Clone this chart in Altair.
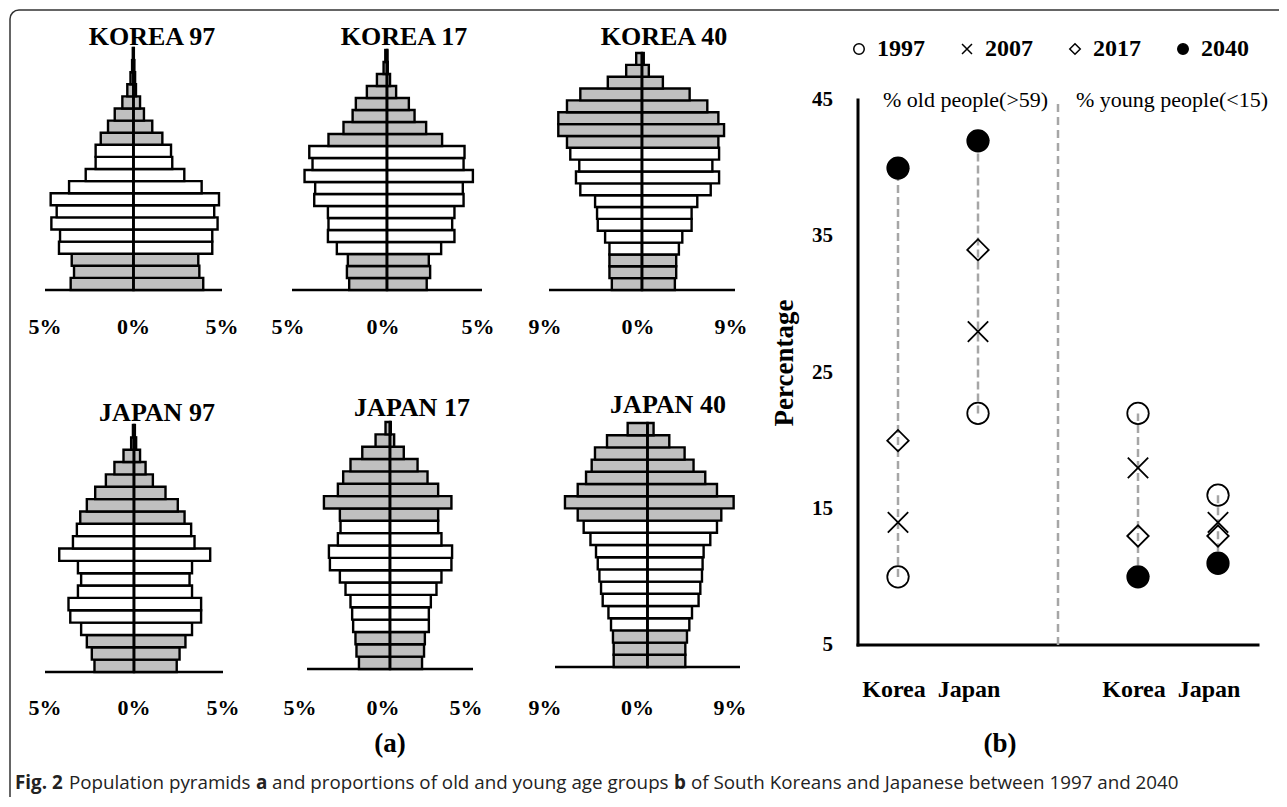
import json
import altair as alt
import pandas as pd

# ---------------- data: population pyramids (% of population, left / right half) ----------------
AGE_BANDS = ["0-4", "5-9", "10-14", "15-19", "20-24", "25-29", "30-34", "35-39", "40-44", "45-49",
             "50-54", "55-59", "60-64", "65-69", "70-74", "75-79", "80-84", "85-89", "90-94", "95+"]

korea97_left = [3.55, 3.36, 3.49, 4.21, 4.15, 4.64, 4.34, 4.68, 3.64, 2.70,
                2.14, 2.14, 1.85, 1.44, 1.06, 0.63, 0.35, 0.17, 0.08, 0.04]
korea97_right = [3.94, 3.72, 3.66, 4.45, 4.45, 4.75, 4.56, 4.83, 3.85, 2.87,
                 2.19, 2.12, 1.63, 1.06, 0.59, 0.37, 0.14, 0.09, 0.05, 0.02]
korea17_left = [1.99, 2.11, 2.06, 2.64, 3.11, 3.08, 3.11, 3.83, 3.78, 4.34,
                3.92, 4.09, 3.08, 2.29, 1.81, 1.64, 1.06, 0.53, 0.18, 0.09]
korea17_right = [2.09, 2.27, 2.20, 2.85, 3.55, 3.43, 3.55, 4.03, 3.99, 4.52,
                 4.03, 4.08, 2.90, 2.06, 1.45, 1.15, 0.48, 0.16, 0.04, 0.02]
korea40_left = [2.92, 3.15, 3.15, 3.15, 3.57, 4.28, 4.35, 4.54, 5.97, 6.39,
                6.07, 6.94, 7.26, 8.10, 8.10, 7.26, 5.97, 3.31, 1.53, 0.56]
korea40_right = [3.18, 3.31, 3.31, 3.57, 3.90, 4.80, 4.80, 5.35, 6.65, 7.46,
                 6.81, 7.46, 7.39, 7.94, 7.39, 6.32, 4.61, 2.02, 0.66, 0.17]
japan97_left = [2.22, 2.37, 2.65, 2.97, 3.58, 3.68, 3.15, 2.97, 3.15, 4.20,
                3.43, 3.21, 3.02, 2.65, 2.18, 1.58, 1.10, 0.59, 0.16, 0.06]
japan97_right = [2.40, 2.56, 2.89, 3.26, 3.77, 3.77, 3.26, 3.12, 3.26, 4.28,
                 3.40, 3.21, 2.84, 2.46, 1.77, 1.06, 0.65, 0.34, 0.12, 0.05]
japan17_left = [1.87, 2.02, 2.08, 2.22, 2.28, 2.38, 2.68, 3.02, 3.62, 3.68,
                3.14, 2.98, 3.02, 3.98, 3.14, 2.82, 2.38, 1.67, 0.87, 0.27]
japan17_right = [1.93, 2.05, 2.10, 2.34, 2.34, 2.46, 2.80, 3.10, 3.70, 3.74,
                 3.10, 2.90, 2.90, 3.70, 2.90, 2.26, 1.66, 0.83, 0.25, 0.05]
japan40_left = [3.29, 3.29, 3.36, 3.55, 3.80, 4.36, 4.52, 4.68, 4.84, 5.01,
                5.55, 6.21, 6.79, 8.03, 6.79, 5.98, 5.43, 5.11, 3.94, 1.93]
japan40_right = [3.68, 3.68, 3.84, 4.07, 4.33, 4.97, 5.14, 5.30, 5.36, 5.46,
                 6.11, 6.76, 7.18, 8.38, 6.76, 5.62, 4.48, 3.61, 2.12, 0.59]

pct_ticks_5 = [-5, 0, 5]
pct_ticks_9 = [-9, 0, 9]

# ---------------- data: proportions of old / young people ----------------
years = ["1997", "2007", "2017", "2040"]
korea_old = [10, 14, 20, 40]
japan_old = [22, 28, 34, 42]
korea_young = [22, 18, 13, 10]
japan_young = [16, 14, 13, 11]
slots = ["Korea|old", "Japan|old", "|", "Korea|young", "Japan|young"]
y_ticks = [5, 15, 25, 35, 45]

# ---------------- layout / style ----------------
W, H = 1269, 787
SERIF = "Liberation Serif"
SANS = "Open Sans"
GRAY = "#c0c0c0"
CROSS = "M-0.95,-0.95L0.95,0.95M-0.95,0.95L0.95,-0.95"


def one(**kw):
    return pd.DataFrame({k: [v] for k, v in kw.items()})


def pyramid(title, left, right, ticks, xr, yr, tdx, tdy, lpad, loff):
    rows = []
    for i, (l, r) in enumerate(zip(left, right)):
        rows.append({"age": i, "band": AGE_BANDS[i], "lo": -l, "hi": 0.0})
        rows.append({"age": i, "band": AGE_BANDS[i], "lo": 0.0, "hi": r})
    df = pd.DataFrame(rows)
    n = len(left)
    lim = max(ticks)
    xs = alt.Scale(domain=[-lim, lim], range=xr, nice=False, zero=False)
    ys = alt.Scale(domain=[0, n], range=yr, nice=False, zero=False)
    base = alt.Chart(one(k=0)).mark_rule(color="black", strokeWidth=2.5).encode(
        x=alt.XDatum(-lim, scale=xs, axis=None), x2=alt.X2Datum(lim),
        y=alt.YDatum(0, scale=ys, axis=None),
    )
    bars = alt.Chart(df).transform_calculate(top="datum.age + 1").mark_rect(
        stroke="black", strokeWidth=2.4
    ).encode(
        x=alt.X("lo:Q", axis=None),
        x2="hi:Q",
        y=alt.Y("age:Q", axis=None),
        y2="top:Q",
        fill=alt.condition("datum.age < 3 || datum.age >= 12", alt.value(GRAY), alt.value("white")),
    )
    center = alt.Chart(one(k=0)).mark_rule(color="black", strokeWidth=2.6).encode(
        x=alt.XDatum(0, axis=None), y=alt.YDatum(0, axis=None), y2=alt.Y2Datum(n)
    )
    labels = alt.Chart(pd.DataFrame({"tick": ticks})).transform_calculate(
        lab="abs(datum.tick) + '%'"
    ).mark_text(
        font=SERIF, fontSize=22, fontWeight="bold", align="center", baseline="alphabetic",
        dx=loff, dy=lpad, color="black"
    ).encode(x=alt.X("tick:Q", axis=None), y=alt.YDatum(0, axis=None), text="lab:N")
    ttl = alt.Chart(one(t=title)).mark_text(
        font=SERIF, fontSize=26, fontWeight="bold", align="center", baseline="alphabetic",
        dx=tdx, dy=tdy, color="black"
    ).encode(x=alt.XDatum(0, axis=None), y=alt.YDatum(n, axis=None), text="t:N")
    return alt.layer(base, bars, center, labels, ttl)


pyramids = [
    pyramid("KOREA 97", korea97_left, korea97_right, pct_ticks_5, [35, 212], [280, 38], 18.5, -3, 44, 0),
    pyramid("KOREA 17", korea17_left, korea17_right, pct_ticks_5, [282, 472], [280, 40], 17, -5, 44, -4),
    pyramid("KOREA 40", korea40_left, korea40_right, pct_ticks_9, [539, 725], [280, 43], 22, -8, 44, -4),
    pyramid("JAPAN 97", japan97_left, japan97_right, pct_ticks_5, [35, 213], [662, 415], 23, -4, 43, 0),
    pyramid("JAPAN 17", japan17_left, japan17_right, pct_ticks_5, [297, 463], [659, 412], 22, -6, 46, -7),
    pyramid("JAPAN 40", japan40_left, japan40_right, pct_ticks_9, [545, 730], [657, 413], 20.5, -10, 48, -10),
]

# ---------------- dot plot ----------------
dot_rows = []
for slot, vals in zip(["Korea|old", "Japan|old", "Korea|young", "Japan|young"],
                      [korea_old, japan_old, korea_young, japan_young]):
    for yv, v in zip(years, vals):
        dot_rows.append({"slot": slot, "year": yv, "pct": v})
dots_df = pd.DataFrame(dot_rows)

SLOT_POS = f"indexof({json.dumps(slots)}, datum.slot) + 0.5"
xs_d = alt.Scale(domain=[0, len(slots)], range=[848, 1248], nice=False, zero=False)
ys_d = alt.Scale(domain=[min(y_ticks), max(y_ticks)], range=[635, 90], nice=False, zero=False)

leg = alt.Legend(title=None, orient="none", legendX=837, legendY=27, direction="horizontal",
                 labelFont=SERIF, labelFontSize=24, labelFontWeight="bold", labelColor="black",
                 symbolSize=110, symbolStrokeWidth=1.5, labelOffset=6, columnPadding=30, padding=0)

y_axis_line = alt.Chart(one(k=0)).mark_rule(color="black", strokeWidth=3, strokeCap="square").encode(
    x=alt.XDatum(0, scale=xs_d, axis=None),
    y=alt.YDatum(min(y_ticks), scale=ys_d, axis=None), y2=alt.Y2Datum(max(y_ticks)),
)
x_axis_line = alt.Chart(one(k=0)).mark_rule(color="black", strokeWidth=3, strokeCap="square").encode(
    x=alt.XDatum(0, axis=None), x2=alt.X2Datum(len(slots)),
    y=alt.YDatum(min(y_ticks), axis=None),
)
y_labels = alt.Chart(pd.DataFrame({"v": y_ticks})).mark_text(
    font=SERIF, fontSize=21, fontWeight="bold", align="right", baseline="middle", dx=-25, color="black"
).encode(x=alt.XDatum(0, axis=None), y=alt.Y("v:Q", axis=None), text="v:Q")
# rotated text: dx/dy act in the rotated frame (screen offset = (dy, -dx))
y_title = alt.Chart(one(t="Percentage")).mark_text(
    font=SERIF, fontSize=27, fontWeight="bold", align="center", baseline="middle", angle=270,
    dx=9.5, dy=-73, color="black"
).encode(x=alt.XDatum(0, axis=None), y=alt.YDatum(25, axis=None), text="t:N")


def country_labels(country, dx):
    return alt.Chart(pd.DataFrame({"slot": [s for s in slots if s.startswith(country + "|")]})).transform_calculate(
        xpos=SLOT_POS, lab="split(datum.slot, '|')[0]"
    ).mark_text(
        font=SERIF, fontSize=24, fontWeight="bold", align="center", baseline="alphabetic",
        dx=dx, dy=52, color="black"
    ).encode(x=alt.X("xpos:Q", axis=None), y=alt.YDatum(min(y_ticks), axis=None), text="lab:N")


conn = alt.Chart(dots_df).transform_calculate(xpos=SLOT_POS).mark_rule(
    color="#a6a6a6", strokeWidth=2.5, strokeDash=[8, 4]
).encode(
    x=alt.X("xpos:Q", axis=None),
    y=alt.Y("min(pct):Q", axis=None),
    y2="max(pct):Q",
)
divider = alt.Chart(one(slot="|")).transform_calculate(xpos=SLOT_POS).mark_rule(
    color="#a6a6a6", strokeWidth=2.5, strokeDash=[8, 5]
).encode(x=alt.X("xpos:Q", axis=None), y=alt.YDatum(min(y_ticks), axis=None), y2=alt.Y2Datum(max(y_ticks)))
points = alt.Chart(dots_df).transform_calculate(xpos=SLOT_POS).mark_point(
    filled=True, size=460, strokeWidth=1.8, opacity=1
).encode(
    x=alt.X("xpos:Q", axis=None),
    y=alt.Y("pct:Q", axis=None),
    shape=alt.Shape("year:N", scale=alt.Scale(domain=years, range=["circle", CROSS, "diamond", "circle"]), legend=leg),
    fill=alt.Fill("year:N", scale=alt.Scale(domain=years, range=["transparent", "transparent", "transparent", "black"]), legend=leg),
    stroke=alt.Stroke("year:N", scale=alt.Scale(domain=years, range=["black", "black", "black", "black"]), legend=leg),
)
lab_old = alt.Chart(one(t="% old people(>59)", slot="Korea|old")).transform_calculate(xpos=SLOT_POS).mark_text(
    font=SERIF, fontSize=22, align="left", baseline="alphabetic", dx=-15, dy=7, color="black"
).encode(x=alt.X("xpos:Q", axis=None), y=alt.YDatum(max(y_ticks), axis=None), text="t:N")
lab_young = alt.Chart(one(t="% young people(<15)", slot="|")).transform_calculate(xpos=SLOT_POS).mark_text(
    font=SERIF, fontSize=22, align="left", baseline="alphabetic", dx=18, dy=7, color="black"
).encode(x=alt.X("xpos:Q", axis=None), y=alt.YDatum(max(y_ticks), axis=None), text="t:N")

dotplot = alt.layer(y_axis_line, x_axis_line, y_labels, y_title,
                    country_labels("Korea", -4), country_labels("Japan", -9),
                    divider, conn, points, lab_old, lab_young)

# ---------------- frame, panel letters, caption ----------------
frame = alt.Chart(one(k=0)).mark_rect(
    fill="transparent", stroke="#333333", strokeWidth=1.5, cornerRadius=9
).encode(x=alt.value(0), y=alt.value(0), x2=alt.value(W + 40), y2=alt.value(H + 40))


def label(text, x, y, font, size, weight, align="left", color="black"):
    return alt.Chart(one(t=text)).mark_text(
        font=font, fontSize=size, fontWeight=weight, align=align, baseline="alphabetic", color=color
    ).encode(x=alt.value(x), y=alt.value(y), text="t:N")


CAP = 18.8
annotations = [
    label("(a)", 380, 742, SERIF, 27, "bold", "center"),
    label("(b)", 990, 742, SERIF, 27, "bold", "center"),
    label("Fig. 2", 5, 779, SANS, CAP, "bold", color="#222222"),
    label("Population pyramids", 59, 779, SANS, CAP, "normal", color="#222222"),
    label("a", 246, 779, SANS, CAP, "bold", color="#222222"),
    label("and proportions of old and young age groups", 262, 779, SANS, CAP, "normal", color="#222222"),
    label("b", 664, 779, SANS, CAP, "bold", color="#222222"),
    label("of South Koreans and Japanese between 1997 and 2040", 681, 779, SANS, CAP, "normal", color="#222222"),
]

chart = alt.layer(frame, *pyramids, dotplot, *annotations).resolve_scale(
    x="independent", y="independent"
).properties(
    width=W, height=H,
    padding={"left": 2, "top": 2, "right": 0, "bottom": 0},
    autosize=alt.AutoSizeParams(type="none"),
).configure_view(stroke="transparent")

chart.save("out.html", embed_options={"renderer": "svg", "actions": False})
